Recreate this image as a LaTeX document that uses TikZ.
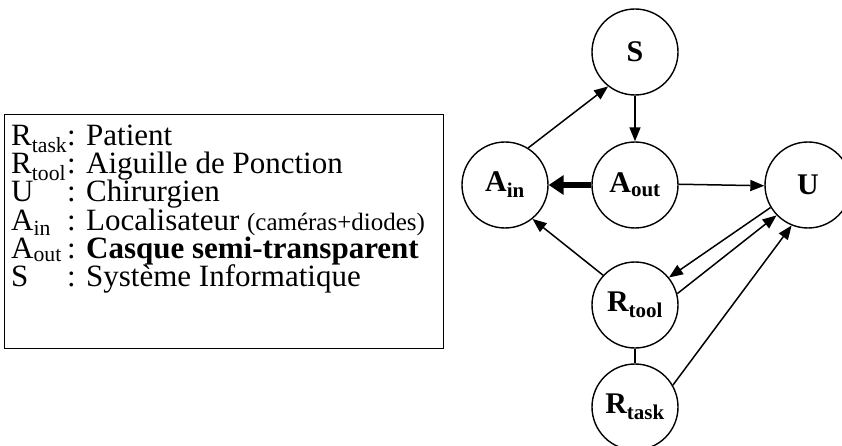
\documentclass[tikz,border=0pt]{standalone}
\usepackage{fontspec}
\setmainfont{Liberation Serif}
\usetikzlibrary{arrows.meta}

\tikzset{
  agent/.style={circle,draw,line width=1.4pt,minimum size=86pt,inner sep=0pt,
    font=\fontsize{30}{32}\selectfont\bfseries},
  link/.style={line width=1.5pt,-{Triangle[length=14pt,width=11pt]}},
  boldlink/.style={line width=6pt,-{Triangle[length=15pt,width=19pt]}},
  legendbox/.style={draw,line width=1.4pt,anchor=north west,minimum width=439pt,
    minimum height=234pt,inner sep=0pt},
  keyline/.style={anchor=base west,inner sep=0pt,font=\fontsize{31}{33}\selectfont}
}
\newcommand{\keyname}[1]{\makebox[56pt][l]{#1}}
\newcommand{\smalltxt}[1]{{\fontsize{25}{27}\selectfont #1}}

\begin{document}
\begin{tikzpicture}[x=1pt,y=-1pt]
  \useasboundingbox (0,0) rectangle (842,446);

  % legend
  \node[legendbox] (legend) at (4,114) {};
  \node[keyline] (ktask) at (11,146) {\keyname{R\textsubscript{task}}: Patient};
  \node[keyline] (ktool) at (11,174) {\keyname{R\textsubscript{tool}}: Aiguille de Ponction};
  \node[keyline] (kuser) at (11,202) {\keyname{U}: Chirurgien};
  \node[keyline] (kin)   at (11,230) {\keyname{A\textsubscript{in}}: Localisateur \smalltxt{(caméras+diodes)}};
  \node[keyline] (kout)  at (11,258) {\keyname{A\textsubscript{out}}: \textbf{Casque semi-transparent}};
  \node[keyline] (ksys)  at (11,286) {\keyname{S}: Système Informatique};

  % agents
  \node[agent] (S)     at (635,52)  {S};
  \node[agent] (Ain)   at (505,185) {A\textsubscript{in}};
  \node[agent] (Aout)  at (635,185) {A\textsubscript{out}};
  \node[agent] (U)     at (808,185) {U};
  \node[agent] (Rtool) at (635,305) {R\textsubscript{tool}};
  \node[agent] (Rtask) at (635,407) {R\textsubscript{task}};

  % links
  \draw[link] (Ain.58) -- (S.232);
  \draw[link] (S) -- (Aout);
  \draw[boldlink] (Aout) -- (Ain);
  \draw[link] (Aout.1) -- (U.181);
  \draw[link] (Rtool.137) -- (Ain.309);
  \draw[link] (U.211) -- (Rtool.39);
  \draw[link] (Rtool.15) -- (U.224);
  \draw[line width=1.4pt] (Rtool) -- (Rtask);
  \draw[link] (Rtask.30) -- (U.248);
\end{tikzpicture}
\end{document}
